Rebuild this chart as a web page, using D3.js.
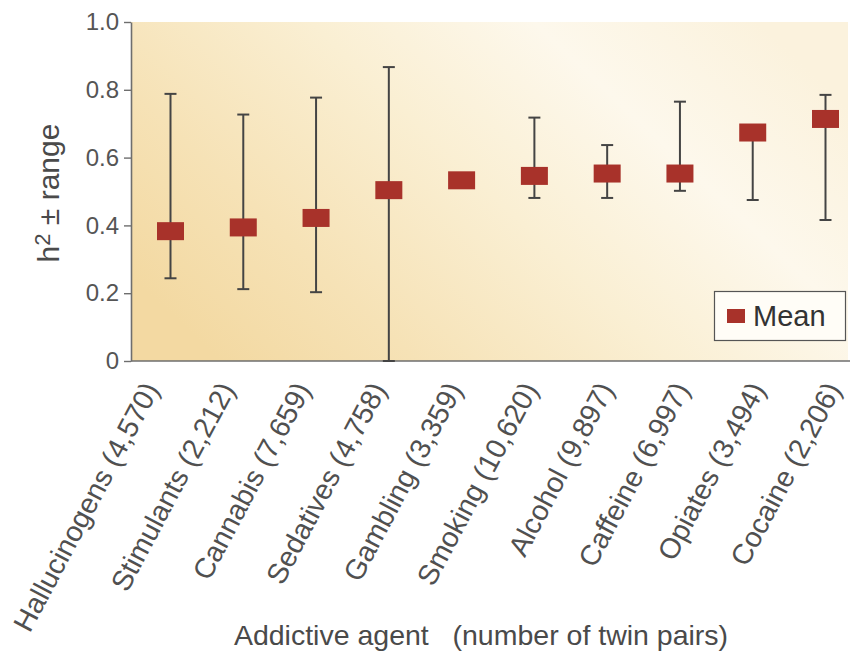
<!DOCTYPE html>
<html><head><meta charset="utf-8">
<script src="https://cdn.jsdelivr.net/npm/d3@7"></script>
<style>
body{margin:0;background:#fff;}
svg{display:block;font-family:"Liberation Sans",Arial,Helvetica,sans-serif;}
</style></head>
<body>
<svg id="chart" width="850" height="658"></svg>
<script>
const categories = ["Hallucinogens (4,570)","Stimulants (2,212)","Cannabis (7,659)","Sedatives (4,758)","Gambling (3,359)","Smoking (10,620)","Alcohol (9,897)","Caffeine (6,997)","Opiates (3,494)","Cocaine (2,206)"];
const means = [0.383,0.394,0.422,0.504,0.533,0.546,0.553,0.553,0.674,0.714];
const lows  = [0.244,0.212,0.203,0.0,null,0.481,0.481,0.502,0.475,0.416];
const highs = [0.788,0.727,0.777,0.867,null,0.718,0.637,0.765,0.68,0.785];
const yTicks = [0,0.2,0.4,0.6,0.8,1.0];
const yTickLabels = ["0","0.2","0.4","0.6","0.8","1.0"];
const yTitle = ["h","2"," ± range"];
const xTitle = "Addictive agent   (number of twin pairs)";
const legendLabel = "Mean";

const svg = d3.select("#chart");
const plot = {left:131, right:850, top:22, bottom:361};
const x = d3.scalePoint().domain(categories).range([170.5, 825.5]);
const xLab = d3.scalePoint().domain(categories).range([160, 842]);
const y = d3.scaleLinear().domain([0,1]).range([plot.bottom, plot.top]);

const defs = svg.append("defs");
const g1 = defs.append("linearGradient").attr("id","bg").attr("x1","0").attr("y1","0.75").attr("x2","1").attr("y2","0.25");
[[0,"#f3d9a2"],[0.22,"#f6e2b6"],[0.5,"#faefd3"],[0.75,"#fdf8ec"],[1,"#fbf2dd"]].forEach(s=>g1.append("stop").attr("offset",s[0]).attr("stop-color",s[1]));

svg.append("rect").attr("x",plot.left).attr("y",plot.top).attr("width",plot.right-plot.left-2).attr("height",plot.bottom-plot.top).attr("fill","url(#bg)");

// axes
const yAxis = d3.axisLeft(y).tickValues(yTicks).tickFormat((d,i)=>yTickLabels[i]).tickSize(7).tickSizeOuter(0).tickPadding(5);
const ya = svg.append("g").attr("transform",`translate(${plot.left},0)`).call(yAxis);
ya.select(".domain").attr("stroke","#6e6e6e").attr("stroke-width",1.6);
ya.selectAll(".tick line").attr("stroke","#6e6e6e").attr("stroke-width",1.4);
ya.selectAll(".tick text").attr("font-size",24).attr("fill","#555").attr("font-family","Liberation Sans, Arial, sans-serif");

const xAxis = d3.axisBottom(x).tickSize(0).tickFormat("");
const xa = svg.append("g").attr("transform",`translate(0,${plot.bottom})`).call(xAxis);
xa.select(".domain").attr("d",`M${plot.left},0H${plot.right}`).attr("stroke","#6e6e6e").attr("stroke-width",1.6);

// error bars
const data = categories.map((c,i)=>({c, m:means[i], lo:lows[i], hi:highs[i]}));
const eb = svg.append("g").attr("stroke","#444").attr("stroke-width",2).attr("fill","none");
data.filter(d=>d.lo!==null).forEach(d=>{
  const cx = x(d.c);
  eb.append("line").attr("x1",cx).attr("x2",cx).attr("y1",y(d.lo)).attr("y2",y(d.hi));
  eb.append("line").attr("x1",cx-6).attr("x2",cx+6).attr("y1",y(d.lo)).attr("y2",y(d.lo));
  eb.append("line").attr("x1",cx-6).attr("x2",cx+6).attr("y1",y(d.hi)).attr("y2",y(d.hi));
});
svg.append("g").selectAll("rect").data(data).join("rect")
  .attr("x",d=>x(d.c)-13.5).attr("y",d=>y(d.m)-9).attr("width",27).attr("height",18)
  .attr("fill","#a8322a");

// x labels
svg.append("g").selectAll("text").data(categories).join("text")
  .attr("transform",d=>`translate(${xLab(d)},389) rotate(-62)`)
  .attr("text-anchor","end").attr("font-size",28.5).attr("fill","#505050").text(d=>d);

// x title
svg.append("text").attr("x",481).attr("y",645).attr("text-anchor","middle").attr("font-size",28.5)
  .attr("fill","#4a4a4a").style("white-space","pre").text(xTitle);

// y title
const yt = svg.append("text").attr("transform","translate(59,193) rotate(-90)").attr("text-anchor","middle")
  .attr("font-size",30).attr("fill","#4a4a4a");
yt.append("tspan").text(yTitle[0]);
yt.append("tspan").attr("font-size",22).attr("dy",-9).text(yTitle[1]);
yt.append("tspan").attr("dy",9).text(yTitle[2]);

// legend
const lg = svg.append("g");
lg.append("rect").attr("x",714.5).attr("y",291.5).attr("width",131).attr("height",49).attr("fill","#fffdf7").attr("stroke","#555").attr("stroke-width",1.2);
lg.append("rect").attr("x",727).attr("y",309).attr("width",18).attr("height",14).attr("fill","#a8322a");
lg.append("text").attr("x",753).attr("y",326).attr("font-size",29).attr("fill","#333").text(legendLabel);
</script>
</body></html>
